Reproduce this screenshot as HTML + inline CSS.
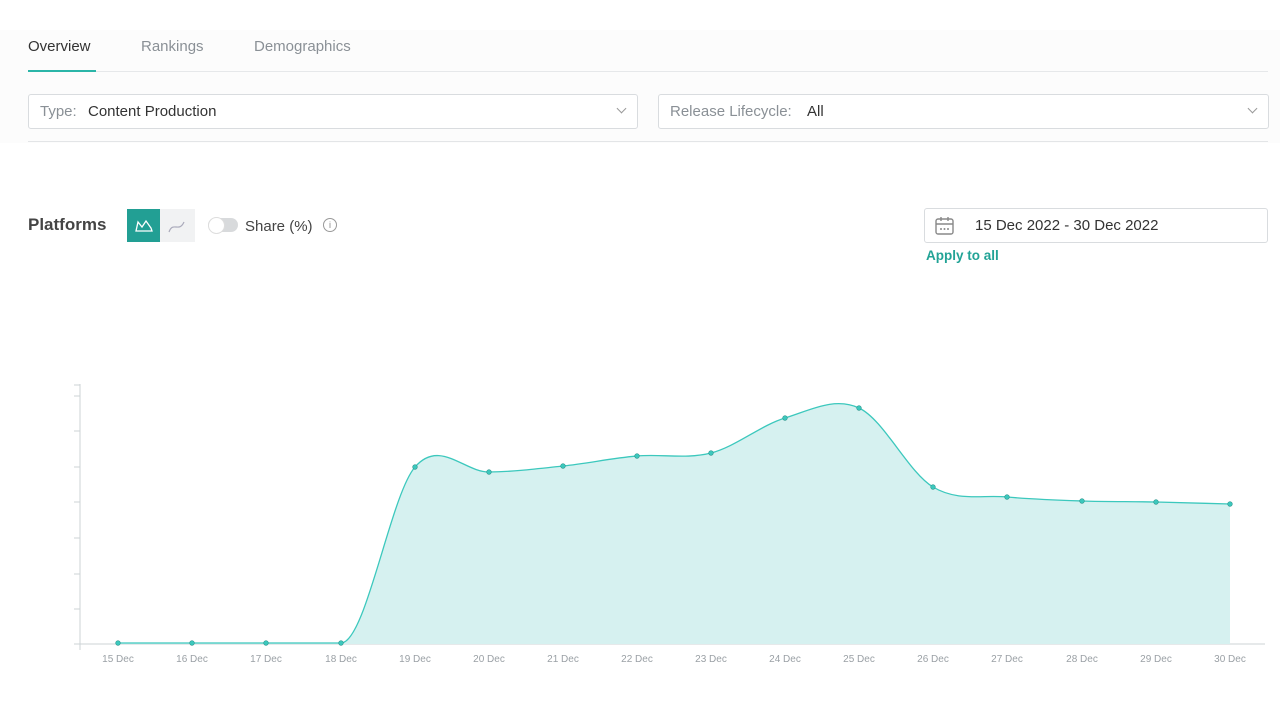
<!DOCTYPE html>
<html><head><meta charset="utf-8"><style>
body{margin:0;width:1280px;height:720px;background:#fff;font-family:"Liberation Sans",sans-serif;position:relative;overflow:hidden}
.a{position:absolute}
.tab{font-size:15px;color:#8a9096;top:38px}
.sel{border:1px solid #d9dcdf;border-radius:3px;height:33px;top:94px;background:#fff}
.sel span{position:absolute;top:8px;font-size:15px}
.chev{position:absolute;top:10px;width:6px;height:6px;border-right:1px solid #999;border-bottom:1px solid #999;transform:rotate(45deg)}
</style></head><body>
<div class="a" style="left:0;top:30px;width:1280px;height:113px;background:#fcfcfc"></div>
<div class="a tab" style="left:28px;color:#333">Overview</div>
<div class="a tab" style="left:141px">Rankings</div>
<div class="a tab" style="left:254px">Demographics</div>
<div class="a" style="left:28px;top:71px;width:1240px;height:1px;background:#e6e8ea"></div>
<div class="a" style="left:28px;top:70px;width:68px;height:2px;background:#2bb5a8"></div>
<div class="a sel" style="left:28px;width:608px"><span style="left:11px;color:#8a9096">Type:</span><span style="left:59px;color:#333">Content Production</span><div class="chev" style="right:12px"></div></div>
<div class="a sel" style="left:658px;width:609px"><span style="left:11px;color:#8a9096">Release Lifecycle:</span><span style="left:148px;color:#333">All</span><div class="chev" style="right:12px"></div></div>
<div class="a" style="left:28px;top:141px;width:1240px;height:1px;background:#e3e5e7"></div>
<div class="a" style="left:28px;top:215px;font-size:17px;font-weight:bold;color:#444">Platforms</div>
<div class="a" style="left:127px;top:209px;width:33px;height:33px;background:#229f94"></div>
<svg class="a" style="left:127px;top:209px" width="68" height="33"><path d="M9 22 L11 13 L15 18 L19 12 L24 19 L25 22 Z" fill="none" stroke="#fff" stroke-width="1.3"/><rect x="33" y="0" width="35" height="33" fill="#f1f2f3"/><path d="M42 23 C46 12 52 24 57 13" fill="none" stroke="#aab" stroke-width="1.2"/></svg>
<div class="a" style="left:208px;top:218px;width:30px;height:14px;border-radius:7px;background:#d8dadc"></div>
<div class="a" style="left:208px;top:217px;width:15px;height:15px;border-radius:50%;background:#fff;border:1px solid #ddd"></div>
<div class="a" style="left:245px;top:218px;font-size:15px;color:#444">Share (%)</div>
<div class="a" style="left:323px;top:218px;width:12px;height:12px;border-radius:50%;border:1px solid #999;font-size:9px;color:#888;text-align:center;line-height:12px">i</div>
<div class="a" style="left:924px;top:208px;width:342px;height:33px;border:1px solid #d9dcdf;border-radius:3px"></div>
<svg class="a" style="left:934px;top:215px" width="22" height="22"><rect x="2" y="4" width="17" height="15" rx="2" fill="none" stroke="#888" stroke-width="1.4"/><line x1="2" y1="9" x2="19" y2="9" stroke="#888" stroke-width="1.4"/><line x1="7" y1="2" x2="7" y2="6" stroke="#888" stroke-width="1.4"/><line x1="14" y1="2" x2="14" y2="6" stroke="#888" stroke-width="1.4"/><circle cx="7" cy="14" r="1" fill="#888"/><circle cx="10.5" cy="14" r="1" fill="#888"/><circle cx="14" cy="14" r="1" fill="#888"/></svg>
<div class="a" style="left:975px;top:217px;font-size:15px;color:#333">15 Dec 2022 - 30 Dec 2022</div>
<div class="a" style="left:926px;top:248px;font-size:13.5px;font-weight:bold;color:#22a396">Apply to all</div>
<svg class="a" style="left:0;top:0" width="1280" height="720" id="ch"></svg>
<script>
var xs=[118,192,266,341,415,489,563,637,711,785,859,933,1007,1082,1156,1230];
var ys=[643,643,643,643,467,472,466,456,453,418,408,487,497,501,502,504];
var n=xs.length,m=[];
for(var i=0;i<n;i++){var p0=i?i-1:i,p1=i<n-1?i+1:i;m.push((ys[p1]-ys[p0])/(xs[p1]-xs[p0]));}
m[0]=m[1]=m[2]=m[3]=0;
var d="M"+xs[0]+" "+ys[0];
for(var i=0;i<n-1;i++){var h=(xs[i+1]-xs[i])/3;
d+=" C"+(xs[i]+h)+" "+(ys[i]+m[i]*h)+" "+(xs[i+1]-h)+" "+(ys[i+1]-m[i+1]*h)+" "+xs[i+1]+" "+ys[i+1];}
var s='<line x1="80" y1="384" x2="80" y2="650" stroke="#ccd3d6"/><line x1="74" y1="644" x2="1265" y2="644" stroke="#ccd3d6"/>';
[385,396,431,467,502,538,574,609,644].forEach(function(y){s+='<line x1="74" y1="'+y+'" x2="80" y2="'+y+'" stroke="#ccd3d6"/>';});
s+='<path d="'+d+' L1230 644 L118 644 Z" fill="#d6f1f0"/><path d="'+d+'" fill="none" stroke="#3cc8bd" stroke-width="1.3"/>';
for(var i=0;i<n;i++){s+='<circle cx="'+xs[i]+'" cy="'+ys[i]+'" r="2.3" fill="#3cc8bd" stroke="#27938a" stroke-width="0.6"/>';
s+='<text x="'+xs[i]+'" y="662" font-size="10" fill="#9aa0a5" text-anchor="middle" font-family="Liberation Sans">'+(15+i)+' Dec</text>';}
document.getElementById('ch').innerHTML=s;
</script>
</body></html>
